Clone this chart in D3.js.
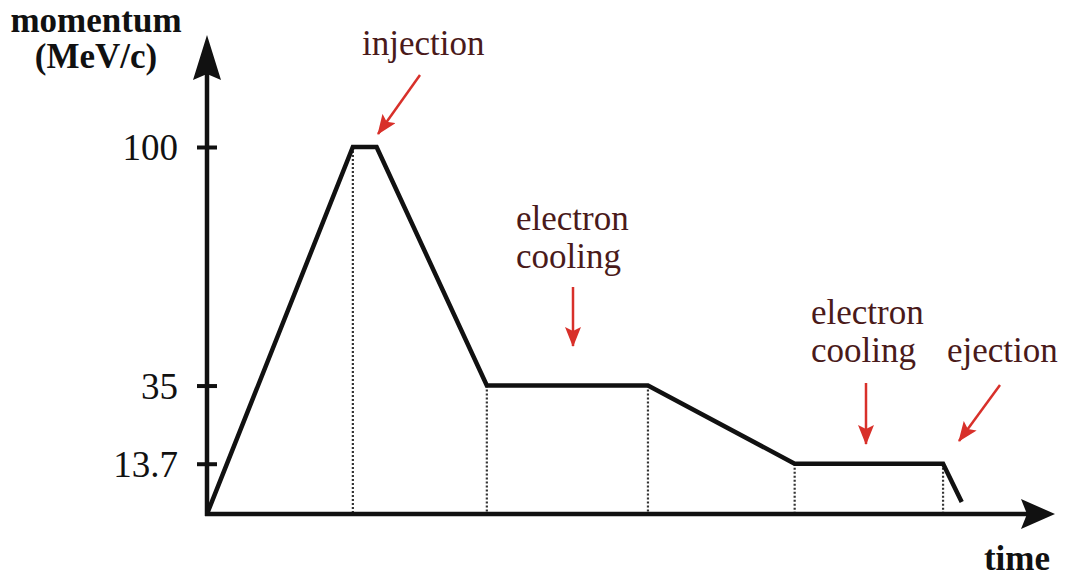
<!DOCTYPE html>
<html>
<head>
<meta charset="utf-8">
<script src="https://cdn.jsdelivr.net/npm/d3@7"></script>
<style>
  html, body { margin: 0; padding: 0; background: #fff; }
  svg { display: block; }
</style>
</head>
<body>
<svg id="chart" width="1074" height="577"></svg>
<script>
// ---- data ----
const timePoints = [0, 17.2, 20.0, 33.0, 52.0, 69.3, 86.8, 89.0];
const momentumValues = [0, 100, 100, 35, 35, 13.7, 13.7, 3.3];
const dropIndices = [1, 3, 4, 5, 6];          // vertices with dotted drop lines
const tickValues = [13.7, 35, 100];
const tickLabels = ["13.7", "35", "100"];
const yAxisTitle = ["momentum", "(MeV/c)"];
const xAxisTitle = "time";
const annotationTexts = [["injection"], ["electron", "cooling"], ["electron", "cooling"], ["ejection"]];

// ---- layout ----
const svg = d3.select("#chart");
const x0 = 207, x1 = 1055, yBase = 514;
const x = d3.scaleLinear().domain([0, 100]).range([x0, x1]);
const y = d3.scaleLinear().domain([0, 100]).range([yBase, 147]);
const yTop = 130.5;
const serif = "'Liberation Serif', 'Times New Roman', serif";

const annLayout = [
  { tx: 362, ty: [55], arrow: [[420, 75], [378, 134]] },
  { tx: 516, ty: [230, 268], arrow: [[573, 287], [573, 346]] },
  { tx: 811, ty: [324, 362], arrow: [[866, 383], [866, 444]] },
  { tx: 947, ty: [362], arrow: [[1000, 385], [959, 441]] }
];

const defs = svg.append("defs");
defs.append("marker")
  .attr("id", "redHead")
  .attr("markerUnits", "userSpaceOnUse")
  .attr("viewBox", "0 0 20 16")
  .attr("refX", 19).attr("refY", 8)
  .attr("markerWidth", 20).attr("markerHeight", 16)
  .attr("orient", "auto")
  .append("path")
  .attr("d", "M0,0 L20,8 L0,16 L4,8 Z")
  .attr("fill", "#d8302a");

// dotted drop lines
svg.append("g").selectAll("line")
  .data(dropIndices)
  .join("line")
  .attr("x1", i => x(timePoints[i])).attr("x2", i => x(timePoints[i]))
  .attr("y1", i => y(momentumValues[i])).attr("y2", y(0))
  .attr("stroke", "#333").attr("stroke-width", 2.2)
  .attr("stroke-dasharray", "2,2");

// y axis
const yAxis = d3.axisLeft(y).tickValues(tickValues)
  .tickFormat((d, i) => tickLabels[i]).tickSize(10).tickPadding(19);
const gy = svg.append("g").attr("transform", `translate(${x0},0)`).call(yAxis);
gy.select(".domain").remove();
gy.selectAll(".tick line").attr("x1", -10).attr("x2", 10)
  .attr("stroke", "#111").attr("stroke-width", 4);
gy.selectAll(".tick text")
  .attr("font-family", serif)
  .attr("font-size", 37).attr("fill", "#111").attr("dy", "0.34em");

svg.append("line")
  .attr("x1", x0).attr("x2", x0)
  .attr("y1", y(0) + 2).attr("y2", y(yTop) + 30)
  .attr("stroke", "#111").attr("stroke-width", 4.5);
svg.append("path")
  .attr("d", `M${x0},${y(yTop)} L${x0 + 14},${y(yTop) + 45} L${x0},${y(yTop) + 39} L${x0 - 14},${y(yTop) + 45} Z`)
  .attr("fill", "#111");

// x axis
svg.append("line")
  .attr("x1", x0 - 2).attr("x2", x(100) - 25)
  .attr("y1", y(0)).attr("y2", y(0))
  .attr("stroke", "#111").attr("stroke-width", 4.5);
svg.append("path")
  .attr("d", `M${x(100)},${y(0)} L${x(100) - 34},${y(0) - 15} L${x(100) - 28},${y(0)} L${x(100) - 34},${y(0) + 15} Z`)
  .attr("fill", "#111");

// curve
const line = d3.line().x((d, i) => x(timePoints[i])).y(d => y(d));
svg.append("path")
  .datum(momentumValues)
  .attr("d", line)
  .attr("fill", "none").attr("stroke", "#111")
  .attr("stroke-width", 4.5).attr("stroke-linejoin", "miter");

// axis titles
svg.append("text")
  .attr("x", 96).attr("text-anchor", "middle")
  .attr("font-family", serif)
  .attr("font-weight", "bold").attr("font-size", 35).attr("fill", "#111")
  .selectAll("tspan").data(yAxisTitle).join("tspan")
  .attr("x", 96).attr("y", (d, i) => 32 + i * 36).text(d => d);

svg.append("text")
  .attr("x", 1050).attr("y", 570).attr("text-anchor", "end")
  .attr("font-family", serif)
  .attr("font-weight", "bold").attr("font-size", 35).attr("fill", "#111")
  .text(xAxisTitle);

// annotations
annotationTexts.forEach((lines, k) => {
  const L = annLayout[k];
  lines.forEach((txt, i) => {
    svg.append("text")
      .attr("x", L.tx).attr("y", L.ty[i])
      .attr("font-family", serif)
      .attr("font-size", 35).attr("fill", "#4a1a1a")
      .text(txt);
  });
  svg.append("line")
    .attr("x1", L.arrow[0][0]).attr("y1", L.arrow[0][1])
    .attr("x2", L.arrow[1][0]).attr("y2", L.arrow[1][1])
    .attr("stroke", "#d8302a").attr("stroke-width", 2.5)
    .attr("marker-end", "url(#redHead)");
});
</script>
</body>
</html>
